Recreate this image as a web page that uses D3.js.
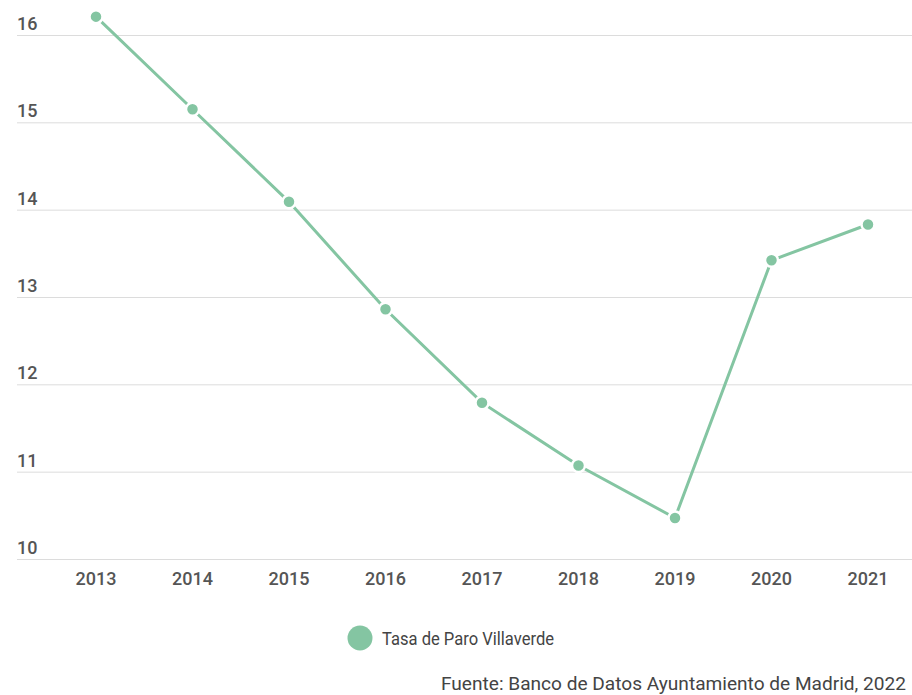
<!DOCTYPE html>
<html><head><meta charset="utf-8">
<script src="https://cdn.jsdelivr.net/npm/d3@7"></script>
<style>body{margin:0;background:#fff;overflow:hidden}svg{display:block;font-family:Roboto,sans-serif}</style>
</head><body><svg id="c" width="912" height="695"></svg>
<script>
const years = ["2013","2014","2015","2016","2017","2018","2019","2020","2021"];
const tasaParo = [16.21, 15.15, 14.09, 12.86, 11.79, 11.07, 10.47, 13.42, 13.83];
const yTicks = [10, 11, 12, 13, 14, 15, 16];
const seriesName = "Tasa de Paro Villaverde";
const sourceText = "Fuente: Banco de Datos Ayuntamiento de Madrid, 2022";

const color = "#84c5a2";
const svg = d3.select("#c");
const x = d3.scalePoint().domain(years).range([96, 868]);
const y = d3.scaleLinear().domain([10, 16]).range([559, 35]);

const grid = svg.append("g");
grid.selectAll("line").data(yTicks).join("line")
  .attr("x1", 17).attr("x2", 912)
  .attr("y1", d => y(d) + 0.5).attr("y2", d => y(d) + 0.5)
  .attr("stroke", "#dcdcdc").attr("stroke-width", 1);
grid.selectAll("text").data(yTicks).join("text")
  .attr("x", 17).attr("y", d => y(d) - 5)
  .attr("font-size", 18).attr("font-weight", 500).attr("fill", "#555").text(d => d);

svg.append("g").selectAll("text").data(years).join("text")
  .attr("x", d => x(d)).attr("y", 585).attr("text-anchor", "middle")
  .attr("font-size", 18).attr("font-weight", 500).attr("fill", "#555").text(d => d);

const line = d3.line().x((d, i) => x(years[i])).y(d => y(d));
svg.append("path").datum(tasaParo).attr("d", line)
  .attr("fill", "none").attr("stroke", color).attr("stroke-width", 3);
svg.append("g").selectAll("circle").data(tasaParo).join("circle")
  .attr("cx", (d, i) => x(years[i])).attr("cy", d => y(d)).attr("r", 6.5)
  .attr("fill", color).attr("stroke", "#fff").attr("stroke-width", 2.5);

svg.append("circle").attr("cx", 360).attr("cy", 638).attr("r", 12.5).attr("fill", color);
svg.append("text").attr("x", 382).attr("y", 645).attr("font-size", 18)
  .attr("textLength", 172).attr("lengthAdjust", "spacingAndGlyphs")
  .attr("fill", "#444").text(seriesName);
svg.append("text").attr("x", 441).attr("y", 690).attr("font-size", 19)
  .attr("textLength", 465).attr("lengthAdjust", "spacingAndGlyphs")
  .attr("fill", "#444").text(sourceText);
</script></body></html>
